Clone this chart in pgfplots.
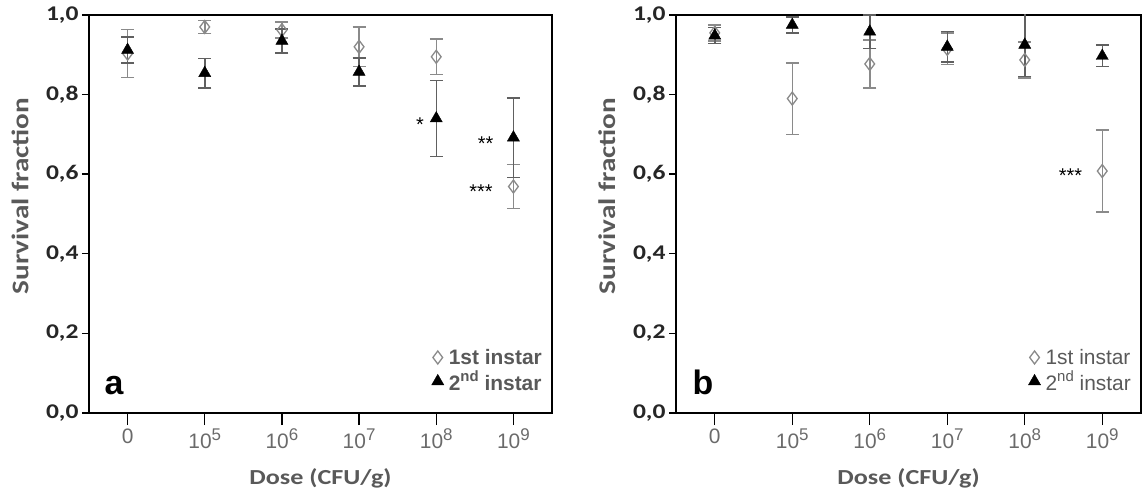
\documentclass[border=0pt]{standalone}
\usepackage{pgfplots}
\usepackage{pgfplotstable}
\pgfplotsset{compat=1.18}
\usepackage{fontspec}
\setmainfont{Liberation Sans}
\newfontfamily\calib[FakeStretch=1.22]{Carlito}
\definecolor{lblgray}{HTML}{595959}
\definecolor{ticklbl}{HTML}{6A6A6A}
\definecolor{ebgray}{HTML}{8A8A8A}
\definecolor{ebdark}{HTML}{606060}
\newcommand{\sups}[1]{\raisebox{0.42em}{\fontsize{15}{15}\selectfont #1}}
\newcommand{\xsups}[1]{\raisebox{0.40em}{\fontsize{17}{17}\selectfont #1}}

\pgfplotstableread{
x y e
0 0.903 0.060
1 0.970 0.016
2 0.962 0.020
3 0.920 0.050
4 0.895 0.045
5 0.569 0.055
}\firstA
\pgfplotstableread{
x y e
0 0.912 0.033
1 0.854 0.037
2 0.935 0.030
3 0.857 0.035
4 0.740 0.095
5 0.692 0.100
}\secondA
\pgfplotstableread{
x y e
0 0.955 0.020
1 0.790 0.090
2 0.877 0.060
3 0.915 0.040
4 0.887 0.045
5 0.608 0.103
}\firstB
\pgfplotstableread{
x y e
0 0.948 0.020
1 0.975 0.020
2 0.958 0.042
3 0.920 0.038
4 0.925 0.080
5 0.897 0.027
}\secondB

\pgfplotsset{
  panel/.style={
    scale only axis, height=398bp,
    xmin=-0.5, xmax=5.5, ymin=0, ymax=1,
    xtick={0,1,2,3,4,5},
    xticklabels={0,10\xsups{5},10\xsups{6},10\xsups{7},10\xsups{8},10\xsups{9}},
    ytick={0,0.2,0.4,0.6,0.8,1},
    yticklabels={{0,0},{0,2},{0,4},{0,6},{0,8},{1,0}},
    xtick pos=bottom, ytick pos=left, tick align=outside,
    major tick length=7bp,
    xtick style={/pgfplots/major tick length=12bp},
    tick style={black, line width=1.4bp},
    axis line style={black, line width=1.4bp},
    xticklabel style={font=\fontsize{21}{21}\selectfont, text=ticklbl, yshift=-5bp},
    yticklabel style={font=\calib\bfseries\fontsize{21}{21}\selectfont, text=black!85},
    xlabel={Dose (CFU/g)},
    ylabel={Survival fraction},
    xlabel style={font=\calib\bfseries\fontsize{21.5}{22}\selectfont, text=lblgray, anchor=center, at={(axis description cs:0.5,-0.163)}},
    ylabel style={font=\calib\bfseries\fontsize{24}{24}\selectfont, text=lblgray, anchor=center, at={(axis description cs:-0.149,0.545)}},
    legend cell align=left,
    legend style={draw=none, fill=none, at={(0.985,0.045)}, anchor=south east,
      row sep=1bp, inner sep=1bp},
  },
  first/.style={only marks, mark=diamond, mark size=6.5bp,
    mark options={draw=ebgray, fill=white, line width=1.3bp},
    error bars/.cd, y dir=both, y explicit,
    error bar style={ebgray, line width=1.5bp},
    error mark options={ebgray, rotate=90, line width=1.5bp, mark size=6.5bp}},
  second/.style={only marks, mark=triangle*, mark size=7bp,
    mark options={draw=black, fill=black},
    error bars/.cd, y dir=both, y explicit,
    error bar style={ebdark, line width=1.5bp},
    error mark options={ebdark, rotate=90, line width=1.5bp, mark size=6.5bp}},
}

\begin{document}
\begin{tikzpicture}
\path[use as bounding box] (0,0) rectangle (1146bp,491bp);
\begin{axis}[panel, width=463bp, at={(89bp,78bp)}, anchor=south west,
  legend style={font=\bfseries\fontsize{21}{25}\selectfont, text=lblgray}]
\addplot+[first] table[x=x, y=y, y error=e] {\firstA};
\addlegendentry{\hspace{3bp}1st instar}
\addplot+[second] table[x=x, y=y, y error=e] {\secondA};
\addlegendentry{\hspace{3bp}2\sups{nd} instar}
\node[font=\fontsize{34}{34}\selectfont\bfseries, anchor=base west] at (rel axis cs:0.026,0.046) {a};
\node[font=\fontsize{20}{20}\selectfont, anchor=center] at (axis cs:3.79,0.725) {*};
\node[font=\fontsize{20}{20}\selectfont, anchor=center] at (axis cs:4.64,0.677) {**};
\node[font=\fontsize{20}{20}\selectfont, anchor=center] at (axis cs:4.58,0.556) {***};
\end{axis}
\begin{axis}[panel, width=465bp, at={(676bp,78bp)}, anchor=south west,
  legend style={font=\fontsize{21}{23}\selectfont, text=lblgray}]
\addplot+[first] table[x=x, y=y, y error=e] {\firstB};
\addlegendentry{\hspace{3bp}1st instar}
\addplot+[second] table[x=x, y=y, y error=e] {\secondB};
\addlegendentry{\hspace{3bp}2\sups{nd} instar}
\node[font=\fontsize{34}{34}\selectfont\bfseries, anchor=base west] at (rel axis cs:0.028,0.046) {b};
\node[font=\fontsize{20}{20}\selectfont, anchor=center] at (axis cs:4.59,0.597) {***};
\end{axis}
\end{tikzpicture}
\end{document}
